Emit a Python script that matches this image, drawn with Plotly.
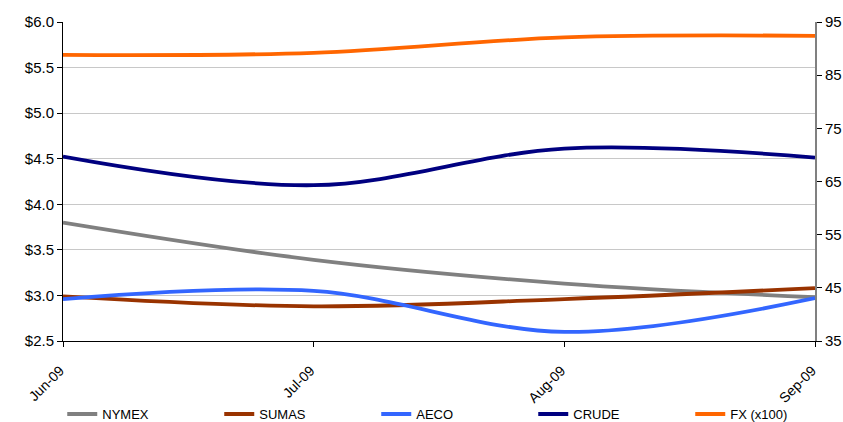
import plotly.graph_objects as go

months = ["Jun-09", "Jul-09", "Aug-09", "Sep-09"]
nymex = [3.80, 3.39, 3.13, 2.98]
sumas = [2.99, 2.88, 2.96, 3.08]
aeco = [2.96, 3.05, 2.60, 2.97]
crude = [69.7, 64.3, 71.2, 69.5]
fx_x100 = [88.8, 89.2, 92.1, 92.4]

fig = go.Figure()
series = [
    ("NYMEX", nymex, "#808080", "y"),
    ("SUMAS", sumas, "#993300", "y"),
    ("AECO", aeco, "#3366FF", "y"),
    ("CRUDE", crude, "#000080", "y2"),
    ("FX (x100)", fx_x100, "#FF6600", "y2"),
]
for name, vals, color, ax in series:
    fig.add_trace(go.Scatter(
        x=list(range(len(months))), y=vals, name=name, yaxis=ax, mode="lines",
        line=dict(color=color, width=3.8, shape="spline", smoothing=1.0),
        cliponaxis=False,
    ))

fig.update_layout(
    width=843, height=422,
    margin=dict(l=63, r=28, t=22, b=81, autoexpand=False),
    paper_bgcolor="white", plot_bgcolor="white",
    font=dict(family="Liberation Sans, Arial, sans-serif", size=13, color="#000000"),
    showlegend=True,
    legend=dict(
        orientation="h", x=-0.001, xanchor="left", y=-0.229, yanchor="middle",
        entrywidth=112, entrywidthmode="pixels",
        font=dict(family="Liberation Sans, Arial, sans-serif", size=13),
        traceorder="normal", bgcolor="rgba(0,0,0,0)",
    ),
    xaxis=dict(
        tickmode="array", tickvals=list(range(len(months))), ticktext=months,
        range=[0, 3], tickangle=-45, showgrid=False, zeroline=False,
        showline=True, linecolor="#000000", linewidth=1,
        ticks="outside", ticklen=5, tickcolor="#000000",
        tickfont=dict(size=14), automargin=False,
        ticklabelstandoff=10, ticklabelshift=-3,
    ),
    yaxis=dict(
        range=[2.5, 6.0], dtick=0.5, tick0=2.5, tickformat="$.1f",
        showgrid=True, gridcolor="#C8C8C8", gridwidth=1, zeroline=False,
        showline=True, linecolor="#000000", linewidth=1,
        ticks="outside", ticklen=5, tickcolor="#000000",
        tickfont=dict(size=15), automargin=False,
    ),
    yaxis2=dict(
        range=[35, 95], dtick=10, tick0=35, overlaying="y", side="right",
        showgrid=False, zeroline=False,
        showline=True, linecolor="#808080", linewidth=2,
        ticks="outside", ticklen=5, tickcolor="#000000",
        tickfont=dict(size=15), automargin=False,
    ),
)

fig.write_html("out.html", config={"displayModeBar": False})
with open("out.html", "r", encoding="utf-8") as f:
    html = f.read()
html = html.replace("<head>", "<head><style>html,body{margin:0;padding:0;overflow:hidden;}</style>", 1)
with open("out.html", "w", encoding="utf-8") as f:
    f.write(html)
